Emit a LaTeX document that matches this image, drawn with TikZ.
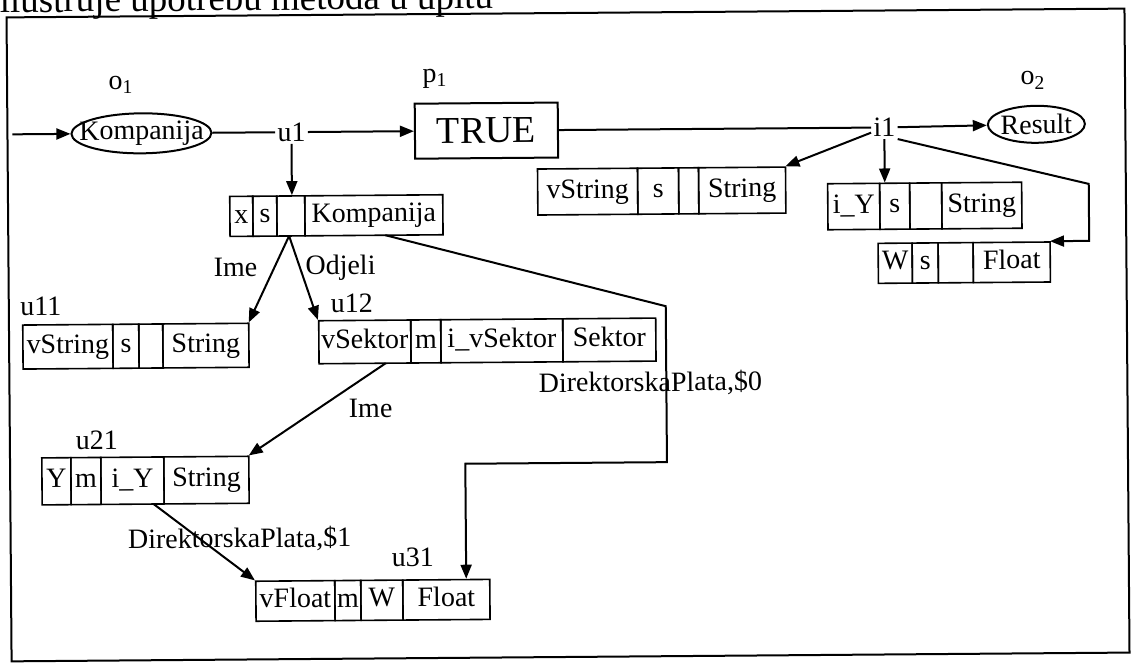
\documentclass[tikz,border=0pt]{standalone}
\usepackage{fontspec}
\setmainfont{Liberation Serif}
\usetikzlibrary{arrows.meta,shapes.geometric,calc}
\newcommand{\rfont}{\fontsize{14}{16}\selectfont}
\newcommand{\tfont}{\fontsize{19}{22}\selectfont}
\newcommand{\hfont}{\fontsize{18.5}{22}\selectfont}
\newcommand{\cellnode}[6]{\node[cell, minimum width={(#3-#2)*0.5pt}, minimum height={(#5-#4)*0.5pt}] (#1) at (#2,#4) {#6};}
\newcommand{\recnode}[5]{\node[recbox, minimum width={(#3-#2)*0.5pt}, minimum height={(#5-#4)*0.5pt}] (#1) at (#2,#4) {};}
\begin{document}
\begin{tikzpicture}[x=0.5pt,y=-0.5pt,
  ln/.style={line width=1pt},
  arr/.style={line width=1pt,-{Triangle[length=7pt,width=5.5pt]}},
  cell/.style={draw,line width=0.8pt,inner sep=0pt,anchor=north west,font=\rfont,text height=9.6pt,text depth=3pt},
  recbox/.style={inner sep=0pt,anchor=north west},
  lbl/.style={font=\rfont,inner sep=1pt}]
\useasboundingbox (0,0) rectangle (1131,665);
\begin{scope}[rotate around={0.45:(565,332)},transform shape]
\node[anchor=base west,font=\hfont,inner sep=0] (hdr) at (2,8) {ilustruje upotrebu metoda u upitu};
\draw[line width=1pt] (9,13) rectangle (1127,657);

% main row
\coordinate (in) at (14,130);
\node[draw,ellipse,line width=1pt,minimum width=70pt,minimum height=20pt,inner sep=0,font=\rfont] (komp) at (143,130) {\makebox[0pt]{Kompanija}};
\node[lbl] (o1) at (123,81) {o\textsubscript{1}};
\node[lbl] (u1) at (293,130) {u1};
\node[draw,line width=1pt,minimum width=71.5pt,minimum height=27.5pt,inner sep=0,font=\tfont] (p1) at (488,130) {TRUE};
\node[lbl] (p1l) at (437,78) {p\textsubscript{1}};
\node[lbl] (i1) at (886,130) {i1};
\node[draw,ellipse,line width=1pt,minimum width=48.5pt,minimum height=18.5pt,inner sep=0,font=\rfont] (res) at (1038,128) {\makebox[0pt]{Result}};
\node[lbl] (o2) at (1035,84) {o\textsubscript{2}};

% records
\recnode{ux}{230}{443}{193}{233}
\cellnode{ux1}{230}{253}{193}{233}{x}
\cellnode{ux2}{253}{277}{193}{233}{s}
\cellnode{ux3}{277}{305}{193}{233}{}
\cellnode{ux4}{305}{443}{193}{233}{Kompanija}

\recnode{u11}{22}{248}{320}{364}
\cellnode{u11a}{22}{112}{320}{364}{vString}
\cellnode{u11b}{112}{138}{320}{364}{s}
\cellnode{u11c}{138}{162}{320}{364}{}
\cellnode{u11d}{162}{248}{320}{364}{String}

\recnode{u12}{318}{655}{318}{361}
\cellnode{u12a}{318}{410}{318}{361}{vSektor}
\cellnode{u12b}{410}{440}{318}{361}{m}
\cellnode{u12c}{440}{562}{318}{361}{i\_vSektor}
\cellnode{u12d}{562}{655}{318}{361}{Sektor}

\recnode{u21}{40}{247}{453}{500}
\cellnode{u21a}{40}{69}{453}{500}{Y}
\cellnode{u21b}{69}{99}{453}{500}{m}
\cellnode{u21c}{99}{162}{453}{500}{i\_Y}
\cellnode{u21d}{162}{247}{453}{500}{String}

\recnode{u31}{253}{487}{578}{618}
\cellnode{u31a}{253}{332}{578}{618}{vFloat}
\cellnode{u31b}{332}{358}{578}{618}{m}
\cellnode{u31c}{358}{400}{578}{618}{W}
\cellnode{u31d}{400}{487}{578}{618}{Float}

\recnode{rs1}{538}{786}{168}{214}
\cellnode{rs1a}{538}{638}{168}{214}{vString}
\cellnode{rs1b}{638}{679}{168}{214}{s}
\cellnode{rs1c}{679}{699}{168}{214}{}
\cellnode{rs1d}{699}{786}{168}{214}{String}

\recnode{iy}{828}{1022}{185}{231}
\cellnode{iya}{828}{880}{185}{231}{i\_Y}
\cellnode{iyb}{880}{910}{185}{231}{s}
\cellnode{iyc}{910}{942}{185}{231}{}
\cellnode{iyd}{942}{1022}{185}{231}{String}

\recnode{wb}{878}{1050}{245}{285}
\cellnode{wba}{878}{912}{245}{285}{W}
\cellnode{wbb}{912}{938}{245}{285}{s}
\cellnode{wbc}{938}{973}{245}{285}{}
\cellnode{wbd}{973}{1050}{245}{285}{Float}

% labels
\node[lbl] (lime1) at (236,265) {Ime};
\node[lbl] (lodj) at (341,266) {Odjeli};
\node[lbl] (lu11) at (41,302) {u11};
\node[lbl] (lu12) at (352,302) {u12};
\node[lbl] (lime2) at (370,407) {Ime};
\node[lbl] (ld0) at (650,384) {DirektorskaPlata,\$0};
\node[lbl] (lu21) at (96,437) {u21};
\node[lbl] (ld1) at (238,537) {DirektorskaPlata,\$1};
\node[lbl] (lu31) at (411,556) {u31};

% connectors
\draw[arr] (in) -- (komp);
\draw[ln] (komp) -- (u1);
\draw[arr] (u1) -- (p1);
\draw[ln] (p1) -- (i1);
\draw[arr] (i1) -- (res);
\draw[arr] (u1.south) -- (u1.south |- ux.north);
\draw[arr] ($(ux.south west)!0.28!(ux.south east)$) -- (u11.north east);
\draw[arr] ($(ux.south west)!0.28!(ux.south east)$) -- (u12.north west);
\coordinate (c2) at (666,307);
\coordinate (c3) at (666,463);
\draw[arr] ($(ux.south west)!0.73!(ux.south east)$) -- (c2) -- (c3) -| ($(u31.north west)!0.9!(u31.north east)$);
\draw[arr] ($(u12.south west)!0.2!(u12.south east)$) -- (u21.north east);
\draw[arr] ($(u21.south west)!0.54!(u21.south east)$) -- (u31.north west);
\draw[arr] (i1) -- (rs1.north east);
\draw[arr] (i1.south) -- (i1.south |- iy.north);
\coordinate (c1) at (1090,188);
\draw[arr] (i1.south east) -- (c1) |- (wb.north east);
\end{scope}
\end{tikzpicture}
\end{document}
